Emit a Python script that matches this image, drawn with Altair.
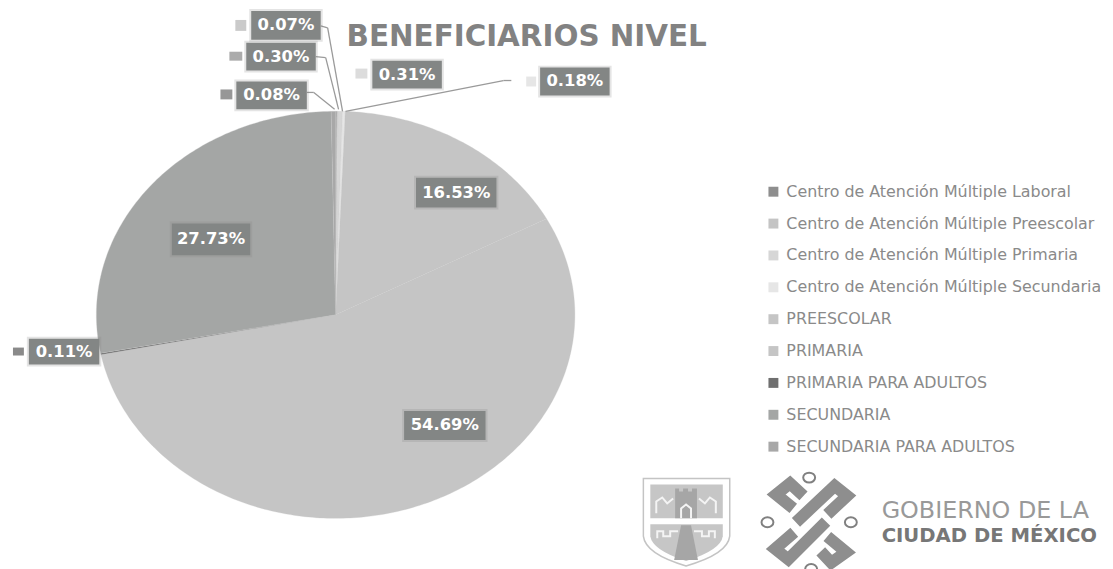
import math
import altair as alt
import pandas as pd

CATEGORIES = ["Centro de Atención Múltiple Laboral", "Centro de Atención Múltiple Preescolar",
              "Centro de Atención Múltiple Primaria", "Centro de Atención Múltiple Secundaria",
              "PREESCOLAR", "PRIMARIA", "PRIMARIA PARA ADULTOS", "SECUNDARIA", "SECUNDARIA PARA ADULTOS"]
VALUES = [0.08, 0.07, 0.31, 0.18, 16.53, 54.69, 0.11, 27.73, 0.30]
COLORS = ["#8e8e8e", "#c4c4c4", "#d6d6d6", "#e6e6e6", "#c5c5c5", "#c5c5c5", "#6f6f6f", "#a4a6a5", "#a8a8a8"]
TITLE = "BENEFICIARIOS NIVEL"

OX, OY = 8, 8


def X(v):
    return v - OX


def Y(v):
    return v - OY


one = pd.DataFrame({"k": [0]})

# pie wedges, as unit-circle outlines, stretched to an ellipse by the x and y scales
rows = []
start = 0.0
for cat, val in zip(CATEGORIES, VALUES):
    a0 = start * 2 * math.pi / 100
    a1 = (start + val) * 2 * math.pi / 100
    n = max(2, int(val * 4))
    rows.append({"cat": cat, "o": 0, "ux": 0.0, "uy": 0.0})
    for i in range(n + 1):
        a = a0 + (a1 - a0) * i / n
        rows.append({"cat": cat, "o": i + 1, "ux": math.sin(a), "uy": math.cos(a)})
    start += val
wedges = pd.DataFrame(rows)

pie = alt.Chart(wedges).mark_line(strokeWidth=0.3, stroke="#c5c5c5", interpolate="linear").encode(
    x=alt.X("ux:Q", axis=None, scale=alt.Scale(domain=[-1, 1], range=[X(97), X(579)])),
    y=alt.Y("uy:Q", axis=None, scale=alt.Scale(domain=[-1, 1], range=[Y(520), Y(110)])),
    order="o:Q",
    fill=alt.Fill("cat:N", sort=CATEGORIES,
                  scale=alt.Scale(domain=CATEGORIES, range=COLORS),
                  legend=alt.Legend(title=None, orient="none", legendX=X(771), legendY=Y(183),
                                    symbolType="square", symbolSize=100, symbolStrokeWidth=0,
                                    labelFont="DejaVu Sans", labelFontSize=16, labelColor="#8a8a8a",
                                    labelLimit=340, labelOffset=5, rowPadding=16.1,
                                    values=CATEGORIES)),
)


def rect(x0, y0, x1, y1, color, opacity=1.0):
    return alt.Chart(one).mark_rect(color=color, opacity=opacity).encode(
        x=alt.value(X(x0)), x2=alt.value(X(x1)), y=alt.value(Y(y0)), y2=alt.value(Y(y1)))


def seg(x0, y0, x1, y1, color="#9a9a9a", w=1.3):
    return alt.Chart(one).mark_rule(color=color, strokeWidth=w).encode(
        x=alt.value(X(x0)), x2=alt.value(X(x1)), y=alt.value(Y(y0)), y2=alt.value(Y(y1)))


def text(s, x, y, size, color, font="DejaVu Sans", weight="normal", align="center", baseline="middle"):
    return alt.Chart(one).mark_text(text=s, fontSize=size, color=color, font=font, fontWeight=weight,
                                    align=align, baseline=baseline).encode(
        x=alt.value(X(x)), y=alt.value(Y(y)))


def shape(path, fill=None, stroke=None, w=1.0):
    kw = {}
    if fill:
        kw["fill"] = fill
    if stroke:
        kw["stroke"] = stroke
        kw["strokeWidth"] = w
    return alt.Chart(one).mark_point(shape=path, size=4, opacity=1, filled=bool(fill), **kw).encode(
        x=alt.value(0), y=alt.value(0))


layers = [pie]

# leader lines
for a in [(323, 24, 330, 26), (330, 26, 345, 110), (318, 55, 328, 56), (328, 56, 341, 108),
          (309, 91, 316, 91), (316, 91, 337, 108), (348, 110, 507, 79), (507, 79, 515, 79)]:
    layers.append(seg(*a))

# value labels: value index, box and swatch
LABEL_BOXES = [
    (0, 238, 80, 309, 108, (222, 88, 234, 98), "#979797"),
    (1, 253, 9, 323, 38, (237, 18, 248, 29), "#cacaca"),
    (2, 375, 59, 445, 87, (358, 67, 370, 77), "#dcdcdc"),
    (3, 544, 66, 614, 94, (530, 75, 540, 85), "#e6e6e6"),
    (4, 419, 177, 500, 207, None, None),
    (5, 407, 412, 489, 441, None, None),
    (6, 29, 339, 100, 365, (13, 348, 24, 356), "#8a8a8a"),
    (7, 173, 223, 252, 255, None, None),
    (8, 248, 41, 318, 69, (231, 50, 244, 59), "#ababab"),
]
for i, x0, y0, x1, y1, sw, swc in LABEL_BOXES:
    layers.append(rect(x0 - 2, y0 - 2, x1 + 2, y1 + 2, "#838685", 0.22))
    layers.append(rect(x0, y0, x1, y1, "#838685"))
    layers.append(text(f"{VALUES[i]:.2f}%", (x0 + x1) / 2, (y0 + y1) / 2, 16.5, "#ffffff", weight="bold"))
    if sw:
        layers.append(rect(*sw, swc))


# logos
def P(pts, close=True):
    # points are read in the reference's pixels
    s = "M" + " L".join(f"{X(x):.1f} {Y(y):.1f}" for x, y in pts)
    return s + (" Z" if close else "")


def Z3(pts, ox=620, oy=460):
    return [(ox + x / 3, oy + y / 3) for x, y in pts]


shield_out = f"M{X(648)} {Y(480)} L{X(735)} {Y(480)} L{X(735)} {Y(538)} Q{X(733)} {Y(556)} {X(691)} {Y(568)} Q{X(650)} {Y(556)} {X(648)} {Y(538)} Z"
layers.append(shape(shield_out, stroke="#c4c4c4", w=1.5))
layers.append(shape(P([(655, 486), (728, 486), (728, 520), (655, 520)]), fill="#c6c6c6"))
lower = f"M{X(655)} {Y(526)} L{X(728)} {Y(526)} L{X(728)} {Y(538)} Q{X(726)} {Y(552)} {X(691)} {Y(563)} Q{X(657)} {Y(552)} {X(655)} {Y(538)} Z"
layers.append(shape(lower, fill="#c6c6c6"))
layers.append(shape(P([(680, 490), (684, 490), (684, 493), (688, 493), (688, 490), (693, 490), (693, 493),
                       (697, 493), (697, 490), (702, 490), (702, 520), (680, 520)]), fill="#a6a6a6"))
layers.append(shape(P([(686, 527), (696, 527), (703, 562), (679, 562)]), fill="#a6a6a6"))
for pts in [[(661, 515), (661, 503), (667, 499), (672, 505), (678, 500)],
            [(721, 515), (721, 503), (715, 499), (710, 505), (704, 500)],
            [(662, 540), (662, 533), (668, 533), (668, 538), (675, 538), (675, 533), (683, 533)],
            [(720, 540), (720, 533), (714, 533), (714, 538), (707, 538), (707, 533), (699, 533)],
            [(686, 520), (686, 510), (691, 506), (696, 510), (696, 520)]]:
    layers.append(shape(P(pts, close=False), stroke="#f4f4f4", w=2))

for pts in [[(537, 150), (485, 108), (527, 74), (568, 112)],
            [(545, 192), (662, 82), (700, 112), (640, 168)],
            [(636, 190), (522, 304), (482, 272), (540, 222)],
            [(640, 235), (697, 282), (652, 314), (620, 280)]]:
    layers.append(shape(P(Z3(pts), close=False), stroke="#8e8e8e", w=12))
for cx, cy in [(815, 479), (773, 524), (857, 524), (817, 571)]:
    c = f"M{X(cx-6)} {Y(cy)} A6 5 0 1 0 {X(cx+6)} {Y(cy)} A6 5 0 1 0 {X(cx-6)} {Y(cy)} Z"
    layers.append(shape(c, stroke="#808080", w=2))

layers.append(text("GOBIERNO DE LA", 888, 513, 24, "#999999", align="left"))
layers.append(text("CIUDAD DE MÉXICO", 888, 538, 19.8, "#777777", weight="bold", align="left"))

chart = alt.layer(*layers).properties(
    width=1105, height=561,
    padding=0,
    autosize=alt.AutoSizeParams(type="none"),
    title=alt.TitleParams(TITLE, anchor="start", frame="group", dx=X(349), dy=Y(52) + 0,
                          fontSize=29.6, font="DejaVu Sans", fontWeight="bold", color="#828282", offset=0),
).configure_view(stroke=None)

chart.save("out.html", embed_options={"renderer": "svg", "actions": False})
